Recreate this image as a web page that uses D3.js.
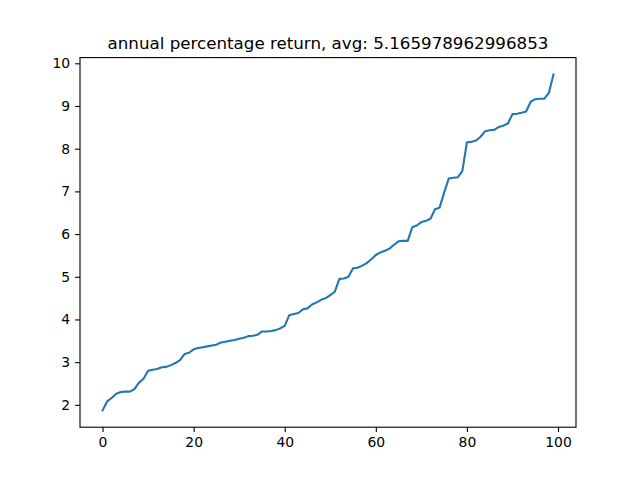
<!DOCTYPE html>
<html>
<head>
<meta charset="utf-8">
<script src="https://cdn.jsdelivr.net/npm/d3@7"></script>
<style>
  body { margin: 0; background: #fff; }
  text { font-family: "DejaVu Sans", sans-serif; }
</style>
</head>
<body>
<div id="chart"></div>
<script>
// sorted annual returns (%)
var returns = [
    1.87, 2.08, 2.16, 2.26, 2.30, 2.31, 2.31, 2.37, 2.52, 2.61,
    2.80, 2.82, 2.84, 2.88, 2.89, 2.93, 2.98, 3.05, 3.19, 3.22,
    3.30, 3.33, 3.35, 3.37, 3.39, 3.41, 3.46, 3.48, 3.50, 3.52,
    3.55, 3.57, 3.61, 3.62, 3.64, 3.72, 3.72, 3.73, 3.75, 3.79,
    3.85, 4.10, 4.13, 4.15, 4.24, 4.26, 4.35, 4.40, 4.46, 4.50,
    4.57, 4.65, 4.95, 4.96, 5.00, 5.20, 5.21, 5.26, 5.32, 5.41,
    5.51, 5.57, 5.61, 5.66, 5.75, 5.83, 5.84, 5.84, 6.16, 6.20,
    6.28, 6.31, 6.36, 6.58, 6.62, 6.97, 7.30, 7.32, 7.33, 7.48,
    8.15, 8.16, 8.19, 8.28, 8.41, 8.43, 8.44, 8.51, 8.54, 8.59,
    8.81, 8.82, 8.84, 8.87, 9.10, 9.16, 9.17, 9.17, 9.31, 9.74
];
var xTicks = [0, 20, 40, 60, 80, 100];
var yTicks = [2, 3, 4, 5, 6, 7, 8, 9, 10];
var title = "annual percentage return, avg: 5.165978962996853";

var data = returns.map(function(v, i) { return { i: i, v: v }; });

// matplotlib-like figure layout
var margin = { top: 57.6, right: 64, bottom: 52.8, left: 80 },
    width = 640 - margin.left - margin.right,
    height = 480 - margin.top - margin.bottom;

var svg = d3.select("#chart")
    .append("svg")
    .attr("width", 640)
    .attr("height", 480)
    .append("g")
    .attr("transform", "translate(" + margin.left + "," + margin.top + ")");

// 5% padding like matplotlib autoscale
var xExt = d3.extent(data, d => d.i),
    yExt = d3.extent(data, d => d.v);
var xPad = (xExt[1] - xExt[0]) * 0.05,
    yPad = (yExt[1] - yExt[0]) * 0.05;

var x = d3.scaleLinear()
    .domain([xExt[0] - xPad, xExt[1] + xPad])
    .range([0, width]);

var y = d3.scaleLinear()
    .domain([yExt[0] - yPad, yExt[1] + yPad])
    .range([height, 0]);

var xAxis = svg.append("g")
    .attr("transform", "translate(0," + height + ")")
    .call(d3.axisBottom(x).tickValues(xTicks).tickSize(4.9).tickPadding(4.9));

var yAxis = svg.append("g")
    .call(d3.axisLeft(y).tickValues(yTicks).tickSize(4.9).tickPadding(4.9));

[xAxis, yAxis].forEach(function(a) {
    a.select(".domain").remove();
    a.selectAll("line").attr("stroke", "#000").attr("stroke-width", 1.1);
    a.selectAll("text")
        .style("font-size", "13.9px")
        .style("font-family", "DejaVu Sans, sans-serif")
        .attr("fill", "#000");
});

// the line
svg.append("path")
    .datum(data)
    .attr("fill", "none")
    .attr("stroke", "#1f77b4")
    .attr("stroke-width", 2.08)
    .attr("stroke-linejoin", "round")
    .attr("stroke-linecap", "square")
    .attr("d", d3.line().x(d => x(d.i)).y(d => y(d.v)));

// frame
svg.append("rect")
    .attr("width", width)
    .attr("height", height)
    .attr("fill", "none")
    .attr("stroke", "#000")
    .attr("stroke-width", 1.1);

// title
svg.append("text")
    .attr("x", width / 2)
    .attr("y", -8.3)
    .attr("text-anchor", "middle")
    .style("font-size", "16.7px")
    .text(title);
</script>
</body>
</html>
